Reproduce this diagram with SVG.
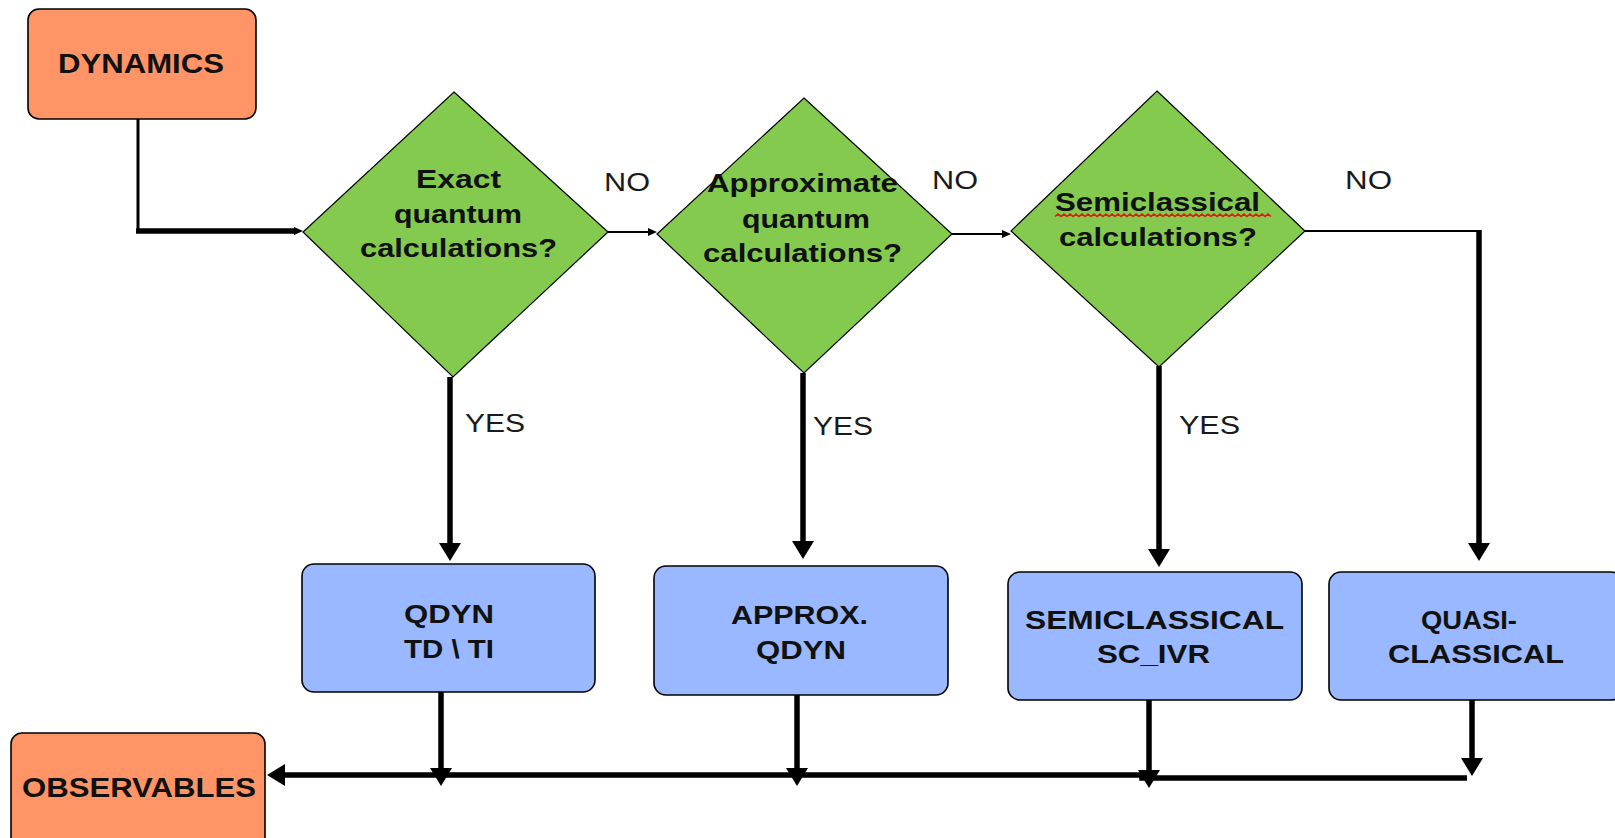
<svg xmlns="http://www.w3.org/2000/svg" width="1615" height="838" viewBox="0 0 1615 838">
<style>
.bg{fill:#ffffff}
.orange{fill:#ff9466;stroke:#000;stroke-width:1.6}
.blue{fill:#99b8ff;stroke:#000;stroke-width:1.6}
.green{fill:#83ca4f;stroke:#000;stroke-width:1.2}
.t{font-family:"Liberation Sans",Arial,sans-serif;font-weight:bold;fill:#111}
.d{font-size:25px}
.b{font-size:26px}
.o{font-size:27px}
.lbl{font-family:"Liberation Sans",Arial,sans-serif;font-size:26px;fill:#1a1a1a}
.thin{fill:none;stroke:#000;stroke-width:2}
.mid{fill:none;stroke:#000;stroke-width:3}
.thick{fill:none;stroke:#000;stroke-width:5.5}
</style>
<defs>
<marker id="big" markerUnits="userSpaceOnUse" markerWidth="20" markerHeight="22" refX="0" refY="11" orient="auto" viewBox="0 0 20 22">
<path d="M0,0 L18,11 L0,22 z" fill="#000"/>
</marker>
<marker id="small" markerUnits="userSpaceOnUse" markerWidth="10" markerHeight="10" refX="0" refY="5" orient="auto" viewBox="0 0 10 10">
<path d="M0,1 L9,5 L0,9 z" fill="#000"/>
</marker>
</defs>
<rect class="bg" x="0" y="0" width="1615" height="838"/>

<g id="connectors">
<path class="mid" d="M138,119 V231"/>
<path class="thick" d="M136,231 H294" marker-end="url(#small)"/>
<path class="thin" d="M608,232 H648" marker-end="url(#small)"/>
<path class="thin" d="M952,234 H1002" marker-end="url(#small)"/>
<path class="thin" d="M1305,231 H1479"/>
<path class="thick" d="M1479,230 V543" marker-end="url(#big)"/>
<path class="thick" d="M450,377 V543" marker-end="url(#big)"/>
<path class="thick" d="M803,373 V541" marker-end="url(#big)"/>
<path class="thick" d="M1159,366 V549" marker-end="url(#big)"/>
<path class="thick" d="M441,692 V768" marker-end="url(#big)"/>
<path class="thick" d="M797,695 V768" marker-end="url(#big)"/>
<path class="thick" d="M1149,700 V770" marker-end="url(#big)"/>
<path class="thick" d="M1472,700 V758" marker-end="url(#big)"/>
<path class="thick" d="M1467,778 H1142 V775 H285" marker-end="url(#big)"/>
<text class="lbl" x="604" y="191" textLength="46" lengthAdjust="spacingAndGlyphs">NO</text>
<text class="lbl" x="932" y="189" textLength="46" lengthAdjust="spacingAndGlyphs">NO</text>
<text class="lbl" x="1345" y="189" textLength="47" lengthAdjust="spacingAndGlyphs">NO</text>
<text class="lbl" x="465" y="432" textLength="60" lengthAdjust="spacingAndGlyphs">YES</text>
<text class="lbl" x="813" y="435" textLength="60" lengthAdjust="spacingAndGlyphs">YES</text>
<text class="lbl" x="1179" y="434" textLength="61" lengthAdjust="spacingAndGlyphs">YES</text>
</g>

<g id="dynamics">
<rect class="orange" x="28" y="9" width="228" height="110" rx="11"/>
<text class="t o" x="58" y="73" textLength="166" lengthAdjust="spacingAndGlyphs">DYNAMICS</text>
</g>

<g id="exact">
<polygon class="green" points="454,92 608,232 453,377 303,232"/>
<text class="t d" x="416" y="188" textLength="85" lengthAdjust="spacingAndGlyphs">Exact</text>
<text class="t d" x="394" y="223" textLength="128" lengthAdjust="spacingAndGlyphs">quantum</text>
<text class="t d" x="360" y="257" textLength="197" lengthAdjust="spacingAndGlyphs">calculations?</text>
</g>

<g id="approximate">
<polygon class="green" points="804,98 952,234 804,373 657,234"/>
<text class="t d" x="707" y="192" textLength="191" lengthAdjust="spacingAndGlyphs">Approximate</text>
<text class="t d" x="742" y="228" textLength="128" lengthAdjust="spacingAndGlyphs">quantum</text>
<text class="t d" x="703" y="262" textLength="199" lengthAdjust="spacingAndGlyphs">calculations?</text>
</g>

<g id="semiclassical-q">
<polygon class="green" points="1157,91 1305,231 1159,367 1011,231"/>
<text class="t d" x="1055" y="211" textLength="205" lengthAdjust="spacingAndGlyphs">Semiclassical</text>
<path d="M1055,216.5 l3,-2.4 3,2.4 3,-2.4 3,2.4 3,-2.4 3,2.4 3,-2.4 3,2.4 3,-2.4 3,2.4 3,-2.4 3,2.4 3,-2.4 3,2.4 3,-2.4 3,2.4 3,-2.4 3,2.4 3,-2.4 3,2.4 3,-2.4 3,2.4 3,-2.4 3,2.4 3,-2.4 3,2.4 3,-2.4 3,2.4 3,-2.4 3,2.4 3,-2.4 3,2.4 3,-2.4 3,2.4 3,-2.4 3,2.4 3,-2.4 3,2.4 3,-2.4 3,2.4 3,-2.4 3,2.4 3,-2.4 3,2.4 3,-2.4 3,2.4 3,-2.4 3,2.4 3,-2.4 3,2.4 3,-2.4 3,2.4 3,-2.4 3,2.4 3,-2.4 3,2.4 3,-2.4 3,2.4 3,-2.4 3,2.4 3,-2.4 3,2.4 3,-2.4 3,2.4 3,-2.4 3,2.4 3,-2.4 3,2.4 3,-2.4 3,2.4 3,-2.4 3,2.4" fill="none" stroke="#e8190f" stroke-width="1.6"/>
<text class="t d" x="1059" y="246" textLength="198" lengthAdjust="spacingAndGlyphs">calculations?</text>
</g>

<g id="qdyn">
<rect class="blue" x="302" y="564" width="293" height="128" rx="12"/>
<text class="t b" x="404" y="623" textLength="90" lengthAdjust="spacingAndGlyphs">QDYN</text>
<text class="t b" x="404" y="658" textLength="90" lengthAdjust="spacingAndGlyphs">TD \ TI</text>
</g>

<g id="approx-qdyn">
<rect class="blue" x="654" y="566" width="294" height="129" rx="12"/>
<text class="t b" x="731" y="624" textLength="137" lengthAdjust="spacingAndGlyphs">APPROX.</text>
<text class="t b" x="756" y="659" textLength="90" lengthAdjust="spacingAndGlyphs">QDYN</text>
</g>

<g id="semiclassical">
<rect class="blue" x="1008" y="572" width="294" height="128" rx="12"/>
<text class="t b" x="1025" y="629" textLength="259" lengthAdjust="spacingAndGlyphs">SEMICLASSICAL</text>
<text class="t b" x="1097" y="663" textLength="113" lengthAdjust="spacingAndGlyphs">SC_IVR</text>
</g>

<g id="quasi-classical">
<rect class="blue" x="1329" y="572" width="294" height="128" rx="12"/>
<text class="t b" x="1421" y="629" textLength="96" lengthAdjust="spacingAndGlyphs">QUASI-</text>
<text class="t b" x="1388" y="663" textLength="176" lengthAdjust="spacingAndGlyphs">CLASSICAL</text>
</g>

<g id="observables">
<rect class="orange" x="11" y="733" width="254" height="120" rx="11"/>
<text class="t o" x="22" y="797" textLength="234" lengthAdjust="spacingAndGlyphs">OBSERVABLES</text>
</g>
</svg>
